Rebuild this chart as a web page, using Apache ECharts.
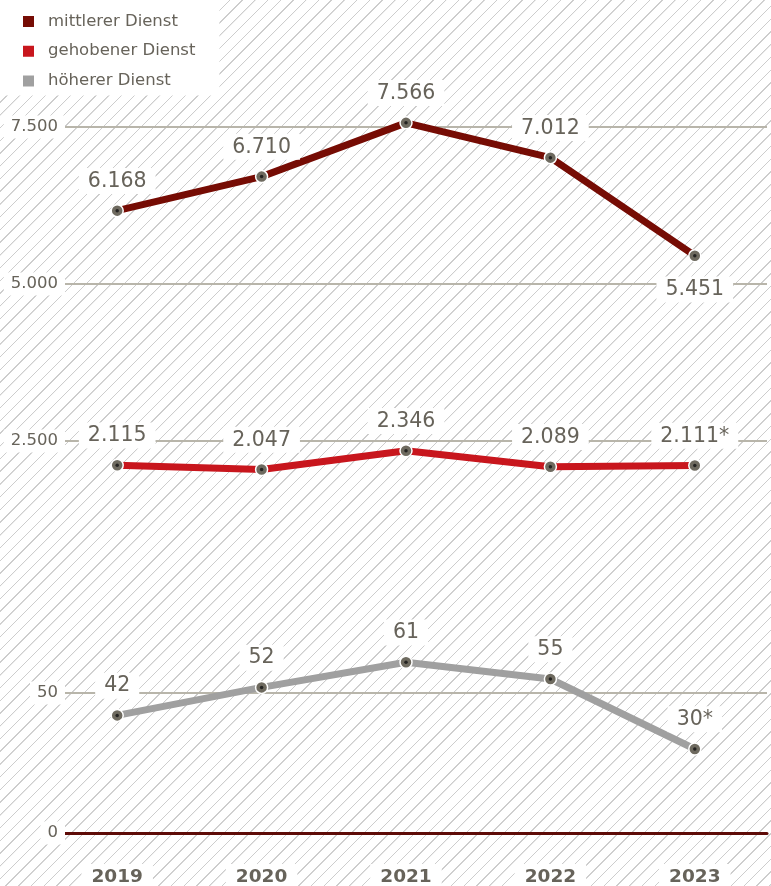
<!DOCTYPE html>
<html>
<head>
<meta charset="utf-8">
<script src="https://cdn.jsdelivr.net/npm/echarts@6/dist/echarts.min.js"></script>
<style>
  html, body { margin: 0; padding: 0; }
  #chart {
    width: 771px;
    height: 886px;
    background: #fff repeating-linear-gradient(135deg, #cdcdcd 0, #cdcdcd 0.9px, #fff 1.1px, #fff 9px);
  }
</style>
</head>
<body>
<div id="chart"></div>
<script>
// data
const years = ["2019", "2020", "2021", "2022", "2023"];
const mittlerer = [6168, 6710, 7566, 7012, 5451];
const gehobener = [2115, 2047, 2346, 2089, 2111];
const hoeherer = [42, 52, 61, 55, 30];
const mittlererNotes = ["", "", "", "", ""];
const gehobenerNotes = ["", "", "", "", "*"];
const hoehererNotes = ["", "", "", "", "*"];

const FONT = "DejaVu Sans";
const TEXT = "#67635a";
const GRID_LINE = "#b8b5aa";

const fmt = (v) => String(v).replace(/\B(?=(\d{3})+(?!\d))/g, ".");

function lineSeries(name, values, notes, color, axis, belowIndex) {
  return {
    name: name,
    type: "line",
    xAxisIndex: axis,
    yAxisIndex: axis,
    data: values.map((v, i) => ({
      value: v,
      label: i === belowIndex ? { position: "bottom", distance: 14 } : undefined,
    })),
    symbol: "circle",
    symbolSize: 12,
    lineStyle: { color: color, width: 7 },
    itemStyle: { color: "#6e6a5f", borderColor: "#fff", borderWidth: 1.5 },
    label: {
      show: true,
      position: "top",
      distance: 10,
      fontFamily: FONT,
      fontSize: 20.5,
      color: TEXT,
      backgroundColor: "#fff",
      padding: [3, 9, 2, 9],
      formatter: (p) => fmt(p.value) + notes[p.dataIndex],
    },
    emphasis: { disabled: true },
    z: 3,
  };
}

function dotSeries(values, axis) {
  return {
    type: "scatter",
    xAxisIndex: axis,
    yAxisIndex: axis,
    data: values,
    symbolSize: 3.5,
    itemStyle: { color: "#111" },
    silent: true,
    z: 5,
  };
}

const yLabel = {
  fontFamily: FONT,
  fontSize: 16.5,
  color: TEXT,
  backgroundColor: "#fff",
  padding: [3, 7, 3, 7],
  margin: -20,
  formatter: (v) => fmt(v),
};

const chart = echarts.init(document.getElementById("chart"));
chart.setOption({
  animation: false,
  textStyle: { fontFamily: FONT },
  legend: {
    left: 0,
    top: 0,
    orient: "vertical",
    backgroundColor: "#fff",
    padding: [13, 24, 6, 21],
    itemWidth: 13,
    itemHeight: 13,
    itemGap: 12.7,
    icon: "rect",
    textStyle: { fontFamily: FONT, fontSize: 16.5, color: TEXT, padding: [0, 0, 0, 8], lineHeight: 13 },
    data: [
      { name: "mittlerer Dienst", itemStyle: { color: "#760c04" } },
      { name: "gehobener Dienst", itemStyle: { color: "#c8161d" } },
      { name: "höherer Dienst", itemStyle: { color: "#a0a0a0" } },
    ],
  },
  grid: [
    { left: 45, right: 4, top: 48.5, bottom: 288, outerBoundsMode: "none" },
    { left: 45, right: 4, top: 553, bottom: 53, outerBoundsMode: "none" },
  ],
  xAxis: [
    { gridIndex: 0, type: "category", data: years, show: false },
    {
      gridIndex: 1,
      type: "category",
      data: years,
      axisLine: { lineStyle: { color: "#5e0b07", width: 3 } },
      axisTick: { show: false },
      axisLabel: {
        fontFamily: FONT,
        fontWeight: "bold",
        fontSize: 18.5,
        color: TEXT,
        backgroundColor: "#fff",
        padding: [4, 10, 4, 10],
        margin: 31,
      },
    },
  ],
  yAxis: [
    {
      gridIndex: 0,
      type: "value",
      min: 0,
      max: 8750,
      interval: 2500,
      axisLine: { show: false },
      axisTick: { show: false },
      splitLine: { lineStyle: { color: GRID_LINE, width: 2 }, showMinLine: false, showMaxLine: false },
      axisLabel: Object.assign({ showMinLabel: false, showMaxLabel: false }, yLabel),
    },
    {
      gridIndex: 1,
      type: "value",
      min: 0,
      max: 100,
      interval: 50,
      axisLine: { show: false },
      axisTick: { show: false },
      splitLine: { lineStyle: { color: GRID_LINE, width: 2 }, showMinLine: false, showMaxLine: false },
      axisLabel: Object.assign({ showMaxLabel: false }, yLabel),
    },
  ],
  series: [
    lineSeries("mittlerer Dienst", mittlerer, mittlererNotes, "#760c04", 0, 4),
    lineSeries("gehobener Dienst", gehobener, gehobenerNotes, "#c8161d", 0, -1),
    lineSeries("höherer Dienst", hoeherer, hoehererNotes, "#a0a0a0", 1, -1),
    dotSeries(mittlerer, 0),
    dotSeries(gehobener, 0),
    dotSeries(hoeherer, 1),
  ],
});
</script>
</body>
</html>
